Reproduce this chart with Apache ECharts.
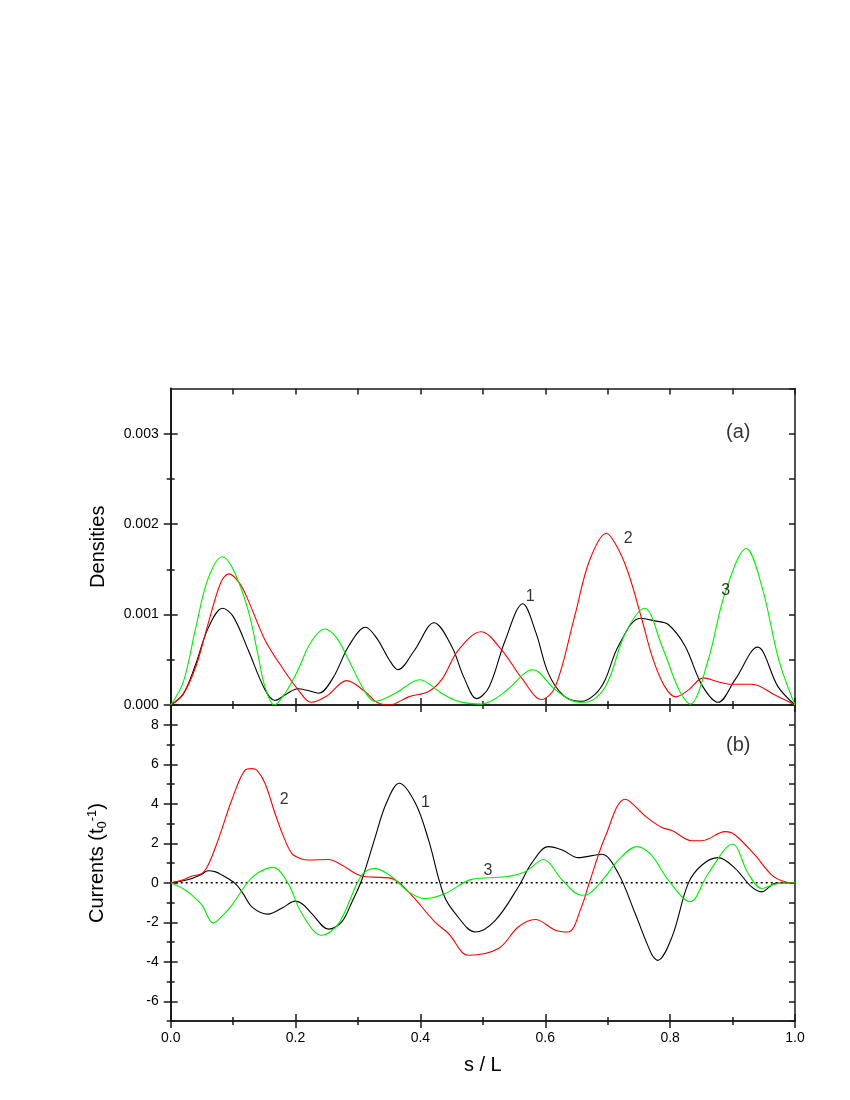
<!DOCTYPE html>
<html>
<head>
<meta charset="utf-8">
<script src="https://cdn.jsdelivr.net/npm/echarts@6/dist/echarts.min.js"></script>
<style>
  html, body { margin: 0; background: #fff; }
  #chart { width: 850px; height: 1100px; }
</style>
</head>
<body>
<div id="chart"></div>
<script>
// panel (a): densities, stored in units of 1e-3, as [s/L, value]
var dens1 = [[0,0],[0.02,0.12],[0.04,0.45],[0.06,0.85],[0.083,1.07],[0.1,0.98],[0.124,0.61],[0.151,0.17],[0.167,0.05],[0.185,0.12],[0.204,0.18],[0.22,0.16],[0.237,0.13],[0.26,0.3],[0.285,0.65],[0.312,0.86],[0.33,0.74],[0.35,0.5],[0.364,0.39],[0.39,0.6],[0.422,0.91],[0.45,0.65],[0.47,0.3],[0.49,0.07],[0.51,0.2],[0.535,0.7],[0.564,1.12],[0.585,0.8],[0.605,0.35],[0.63,0.1],[0.658,0.04],[0.68,0.12],[0.696,0.28],[0.717,0.65],[0.752,0.96],[0.775,0.93],[0.797,0.89],[0.824,0.65],[0.851,0.22],[0.877,0.03],[0.904,0.28],[0.94,0.64],[0.973,0.2],[1,0]];
var dens2 = [[0,0],[0.02,0.12],[0.04,0.42],[0.06,0.9],[0.08,1.35],[0.093,1.45],[0.11,1.35],[0.124,1.16],[0.151,0.72],[0.178,0.42],[0.204,0.17],[0.225,0.03],[0.25,0.1],[0.282,0.27],[0.311,0.15],[0.33,0.03],[0.35,0.0],[0.381,0.09],[0.413,0.15],[0.434,0.28],[0.461,0.61],[0.497,0.81],[0.53,0.61],[0.562,0.3],[0.594,0.06],[0.616,0.2],[0.647,0.98],[0.671,1.6],[0.698,1.9],[0.715,1.75],[0.733,1.46],[0.755,0.94],[0.771,0.54],[0.79,0.22],[0.809,0.09],[0.83,0.17],[0.853,0.3],[0.875,0.26],[0.898,0.23],[0.931,0.23],[0.968,0.11],[1,0]];
var dens3 = [[0,0],[0.02,0.25],[0.04,0.85],[0.06,1.4],[0.083,1.64],[0.1,1.5],[0.124,1.05],[0.14,0.55],[0.151,0.2],[0.166,0],[0.185,0.15],[0.204,0.39],[0.225,0.7],[0.247,0.84],[0.265,0.75],[0.282,0.54],[0.311,0.15],[0.327,0.04],[0.36,0.13],[0.399,0.28],[0.434,0.13],[0.461,0.04],[0.498,0.01],[0.52,0.07],[0.541,0.18],[0.58,0.39],[0.616,0.17],[0.647,0.04],[0.664,0.03],[0.696,0.2],[0.728,0.79],[0.759,1.07],[0.787,0.65],[0.814,0.17],[0.832,0.01],[0.861,0.5],[0.888,1.24],[0.922,1.73],[0.947,1.31],[0.974,0.5],[1,0]];

// panel (b): currents in units of 1/t0
var cur1 = [[0,0],[0.02,0.1],[0.034,0.22],[0.048,0.4],[0.06,0.61],[0.072,0.55],[0.082,0.39],[0.103,-0.03],[0.115,-0.5],[0.13,-1.22],[0.156,-1.59],[0.18,-1.25],[0.199,-0.93],[0.212,-1.1],[0.226,-1.56],[0.253,-2.35],[0.274,-1.98],[0.29,-1.0],[0.306,0.14],[0.327,2.25],[0.345,4.0],[0.366,5.04],[0.392,4.03],[0.413,2.17],[0.437,-0.58],[0.456,-1.56],[0.488,-2.49],[0.52,-1.9],[0.557,-0.2],[0.578,0.98],[0.605,1.83],[0.627,1.66],[0.653,1.27],[0.69,1.44],[0.717,0.47],[0.744,-1.56],[0.77,-3.59],[0.78,-3.93],[0.803,-2.74],[0.829,-0.03],[0.851,0.9],[0.877,1.27],[0.904,0.73],[0.93,-0.2],[0.947,-0.46],[0.968,-0.03],[1,0]];
var cur2 = [[0,0],[0.02,0.15],[0.034,0.34],[0.05,0.47],[0.06,0.9],[0.076,2.17],[0.098,4.2],[0.119,5.7],[0.13,5.78],[0.138,5.7],[0.151,5.04],[0.167,3.52],[0.18,2.4],[0.194,1.49],[0.21,1.2],[0.221,1.15],[0.253,1.18],[0.274,0.9],[0.306,0.34],[0.335,0.27],[0.354,0.22],[0.381,-0.46],[0.423,-1.98],[0.445,-2.57],[0.477,-3.67],[0.525,-3.33],[0.557,-2.23],[0.584,-1.86],[0.616,-2.4],[0.637,-2.49],[0.658,-1.22],[0.671,0.05],[0.696,2.33],[0.728,4.23],[0.76,3.38],[0.786,2.81],[0.803,2.64],[0.835,2.13],[0.851,2.13],[0.888,2.59],[0.904,2.42],[0.936,1.4],[0.963,0.39],[0.984,0.05],[1,0]];
var cur3 = [[0,0],[0.02,-0.3],[0.034,-0.63],[0.05,-1.13],[0.068,-2.03],[0.085,-1.6],[0.098,-1.13],[0.124,0.05],[0.14,0.51],[0.164,0.78],[0.188,-0.03],[0.21,-1.56],[0.242,-2.66],[0.269,-2.06],[0.306,0.39],[0.327,0.73],[0.354,0.3],[0.381,-0.46],[0.407,-0.8],[0.44,-0.54],[0.482,0.17],[0.536,0.3],[0.568,0.56],[0.597,1.18],[0.627,0.14],[0.658,-0.63],[0.671,-0.54],[0.696,0.3],[0.717,1.15],[0.747,1.83],[0.77,1.4],[0.797,0.14],[0.832,-0.96],[0.861,0.47],[0.9,1.95],[0.925,0.47],[0.947,-0.29],[0.968,-0.07],[1,0]];

// tick values and text labels
var densMajor = [0, 1, 2, 3];
var densMinor = [0.5, 1.5, 2.5];
var curMajor = [-6, -4, -2, 0, 2, 4, 6, 8];
var curMinor = [-7, -5, -3, -1, 1, 3, 5, 7, 9];
var topLabels = [{ name: '1', value: [0.576, 1.2] }, { name: '2', value: [0.733, 1.84] }, { name: '3', value: [0.889, 1.27] }];
var botLabels = [{ name: '2', value: [0.182, 4.2] }, { name: '1', value: [0.408, 4.06] }, { name: '3', value: [0.508, 0.6] }];
var panelTags = [{ name: '(a)', value: [0.909, 3.01] }, { name: '(b)', value: [0.909, 6.94] }];

var font = '"Liberation Sans", Arial, sans-serif';
var ink = '#1a1a1a';

function axis(o) {
  var a = {
    type: 'value',
    gridIndex: o.grid,
    position: o.pos,
    min: o.min,
    max: o.max,
    interval: o.interval,
    axisLine: { show: true, onZero: false, lineStyle: { color: ink, width: 1.5 } },
    splitLine: { show: false },
    axisTick: { show: true, inside: !!o.inside, length: o.len || 6, lineStyle: { color: ink, width: 1.5 } },
    axisLabel: { show: false },
    minorTick: { show: !!o.minor, splitNumber: 2, length: 4, lineStyle: { color: ink, width: 1.5 } }
  };
  if (o.ticks) a.axisTick.customValues = o.ticks;
  return a;
}

var xAxes = [
  axis({ grid: 0, pos: 'bottom', min: 0, max: 1, interval: 0.2, len: 7, minor: true }),
  axis({ grid: 0, pos: 'bottom', min: 0, max: 1, interval: 0.2, len: 7, minor: true, inside: true }),
  axis({ grid: 0, pos: 'top', min: 0, max: 1, interval: 0.1, len: 6, inside: true }),
  axis({ grid: 1, pos: 'bottom', min: 0, max: 1, interval: 0.2, len: 7, minor: true }),
  axis({ grid: 1, pos: 'bottom', min: 0, max: 1, interval: 0.2, len: 7, minor: true, inside: true })
];
xAxes[3].axisLabel = { show: true, margin: 10, fontSize: 14, color: '#000', fontFamily: font,
  formatter: function (v) { return v.toFixed(1); } };
xAxes[3].name = 's / L';
xAxes[3].nameLocation = 'middle';
xAxes[3].nameGap = 34;
xAxes[3].nameTextStyle = { fontSize: 20, color: '#000', fontFamily: font };

var yAxes = [
  axis({ grid: 0, pos: 'left', min: 0, max: 3.5, interval: 0.5, len: 7, ticks: densMajor }),
  axis({ grid: 0, pos: 'left', min: 0, max: 3.5, interval: 0.5, len: 7, ticks: densMajor, inside: true }),
  axis({ grid: 0, pos: 'left', min: 0, max: 3.5, interval: 0.5, len: 4, ticks: densMinor }),
  axis({ grid: 0, pos: 'left', min: 0, max: 3.5, interval: 0.5, len: 4, ticks: densMinor, inside: true }),
  axis({ grid: 0, pos: 'right', min: 0, max: 3.5, interval: 0.5, len: 6, inside: true }),
  axis({ grid: 1, pos: 'left', min: -7, max: 9, interval: 1, len: 7, ticks: curMajor }),
  axis({ grid: 1, pos: 'left', min: -7, max: 9, interval: 1, len: 7, ticks: curMajor, inside: true }),
  axis({ grid: 1, pos: 'left', min: -7, max: 9, interval: 1, len: 4, ticks: curMinor }),
  axis({ grid: 1, pos: 'left', min: -7, max: 9, interval: 1, len: 4, ticks: curMinor, inside: true }),
  axis({ grid: 1, pos: 'right', min: -7, max: 9, interval: 1, len: 6, inside: true })
];
var densY = 0, curY = 5;
yAxes[densY].axisLabel = { show: true, margin: 12, fontSize: 14, color: '#000', fontFamily: font, customValues: densMajor,
  formatter: function (v) { return (v * 0.001).toFixed(3); } };
yAxes[densY].name = 'Densities';
yAxes[densY].nameLocation = 'middle';
yAxes[densY].nameGap = 62;
yAxes[densY].nameTextStyle = { fontSize: 20, color: '#000', fontFamily: font };
yAxes[curY].axisLabel = { show: true, margin: 12, fontSize: 14, color: '#000', fontFamily: font, customValues: curMajor };
yAxes[curY].name = '{m|Currents (t}{sub|0}{sup|-1}{m|)}';
yAxes[curY].nameLocation = 'middle';
yAxes[curY].nameGap = 62;
yAxes[curY].nameTextStyle = {
  color: '#000', fontFamily: font, fontSize: 20,
  rich: {
    m: { fontSize: 20, fontFamily: font, color: '#000' },
    sub: { fontSize: 13, fontFamily: font, color: '#000', padding: [10, 0, 0, 0] },
    sup: { fontSize: 13, fontFamily: font, color: '#000', padding: [0, 0, 10, 0] }
  }
};

function line(data, color, grid) {
  return {
    type: 'line', data: data, smooth: 0.35, symbol: 'none',
    xAxisIndex: grid ? 3 : 0, yAxisIndex: grid ? curY : densY,
    lineStyle: { color: color, width: 1.1 }, z: 3
  };
}

function texts(data, grid, size) {
  return {
    type: 'scatter', data: data, symbolSize: 1, itemStyle: { color: 'rgba(0,0,0,0)' },
    xAxisIndex: grid ? 3 : 0, yAxisIndex: grid ? curY : densY, silent: true, z: 5,
    label: { show: true, position: 'inside', formatter: '{b}', color: '#000', fontSize: size, fontFamily: font }
  };
}

var chart = echarts.init(document.getElementById('chart'));
chart.setOption({
  animation: false,
  backgroundColor: '#fff',
  grid: [
    { left: 170.7, right: 55, top: 388.5, height: 316.5 },
    { left: 170.7, right: 55, top: 705, height: 316 }
  ],
  xAxis: xAxes,
  yAxis: yAxes,
  series: [
    line(dens1, '#000000', 0),
    line(dens2, '#ff0000', 0),
    line(dens3, '#00ee00', 0),
    {
      type: 'line', data: [[0, 0], [1, 0]], xAxisIndex: 3, yAxisIndex: curY, symbol: 'none',
      lineStyle: { color: '#000', width: 1.3, type: [2, 3] }, z: 2
    },
    line(cur1, '#000000', 1),
    line(cur2, '#ff0000', 1),
    line(cur3, '#00ee00', 1),
    texts(topLabels, 0, 16),
    texts(botLabels, 1, 16),
    texts([panelTags[0]], 0, 20),
    texts([panelTags[1]], 1, 20)
  ]
});
</script>
</body>
</html>
